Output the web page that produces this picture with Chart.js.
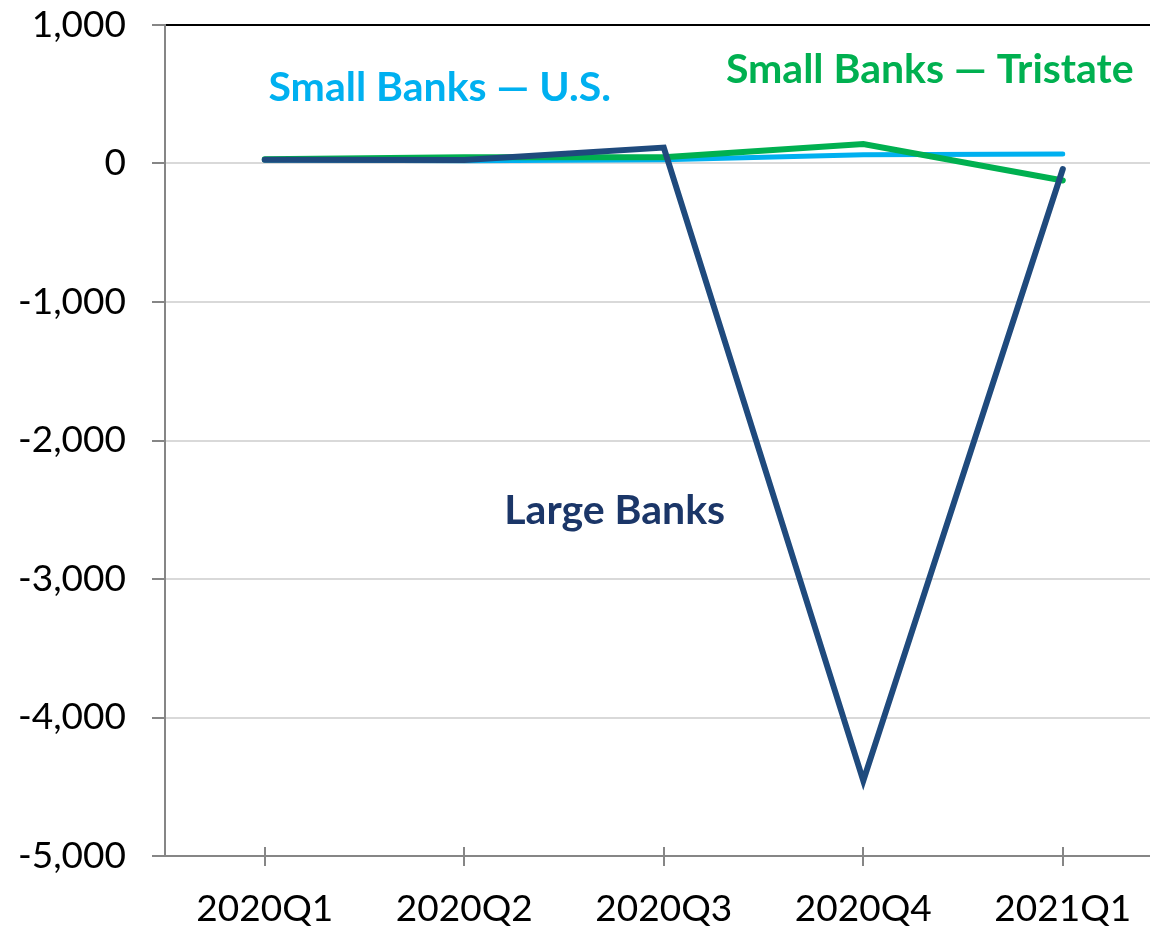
<!DOCTYPE html>
<html>
<head>
<meta charset="utf-8">
<script src="https://cdn.jsdelivr.net/npm/chart.js@4.4.0/dist/chart.umd.min.js"></script>
<style>
  html, body { margin: 0; padding: 0; background: #ffffff; }
  #wrap { width: 1150px; height: 932px; }
</style>
</head>
<body>
<div id="wrap"><canvas id="c" width="1150" height="932"></canvas></div>
<script>
const categories = ['2020Q1', '2020Q2', '2020Q3', '2020Q4', '2021Q1'];
const largeBanks = [27, 25, 115, -4457, -40];
const smallTristate = [30, 45, 46, 140, -123];
const smallUS = [25, 20, 27, 63, 68];
const yTicks = [1000, 0, -1000, -2000, -3000, -4000, -5000];

const seriesLabels = [
  { text: 'Small Banks \u2014 U.S.', x: 0.877, y: 545, color: '#00B0F0' },
  { text: 'Small Banks \u2014 Tristate', x: 3.333, y: 675, color: '#00B050' },
  { text: 'Large Banks', x: 1.754, y: -2510, color: '#1B3668' }
];

const FONT = 'Lato, "Open Sans", sans-serif';

const toPts = arr => arr.map((v, i) => ({ x: i, y: v }));

const labelPlugin = {
  id: 'seriesLabels',
  afterDatasetsDraw(chart) {
    const { ctx, scales } = chart;
    ctx.save();
    ctx.font = 'bold 41px ' + FONT;
    ctx.textAlign = 'center';
    ctx.textBaseline = 'middle';
    seriesLabels.forEach(l => {
      ctx.fillStyle = l.color;
      ctx.fillText(l.text, scales.x.getPixelForValue(l.x), scales.y.getPixelForValue(l.y));
    });
    ctx.restore();
  }
};

const innerTicks = {
  id: 'innerTicks',
  afterDraw(chart) {
    const { ctx, scales, chartArea } = chart;
    ctx.save();
    ctx.strokeStyle = '#868686';
    ctx.lineWidth = 2;
    categories.forEach((c, i) => {
      const px = Math.round(scales.x.getPixelForValue(i));
      ctx.beginPath();
      ctx.moveTo(px, chartArea.bottom - 9);
      ctx.lineTo(px, chartArea.bottom);
      ctx.stroke();
    });
    ctx.restore();
  }
};

new Chart(document.getElementById('c'), {
  type: 'line',
  data: {
    datasets: [
      { label: 'Large Banks', data: toPts(largeBanks), borderColor: '#1F4A7D', borderWidth: 6, order: 0 },
      { label: 'Small Banks \u2014 Tristate', data: toPts(smallTristate), borderColor: '#00B050', borderWidth: 6, order: 1 },
      { label: 'Small Banks \u2014 U.S.', data: toPts(smallUS), borderColor: '#00B0F0', borderWidth: 5, order: 2 }
    ]
  },
  options: {
    responsive: false,
    animation: false,
    devicePixelRatio: 1,
    layout: { padding: { left: 0, right: 0, top: 25, bottom: 0 } },
    elements: {
      point: { radius: 0, hoverRadius: 0 },
      line: { tension: 0, borderCapStyle: 'round', borderJoinStyle: 'miter', fill: false }
    },
    plugins: { legend: { display: false }, tooltip: { enabled: false } },
    scales: {
      x: {
        type: 'linear',
        min: -0.5,
        max: 4.437,
        afterBuildTicks: s => { s.ticks = categories.map((c, i) => ({ value: i })); },
        afterFit: s => { s.height = 76; s.paddingLeft = 0; s.paddingRight = 0; },
        ticks: {
          autoSkip: false,
          maxRotation: 0,
          padding: 21,
          color: '#000000',
          font: { family: FONT, size: 37 },
          callback: v => categories[v]
        },
        grid: { drawOnChartArea: false, drawTicks: true, tickLength: 10, color: '#868686', tickColor: '#868686', lineWidth: 2 },
        border: { display: true, color: '#868686', width: 2 }
      },
      y: {
        min: -5000,
        max: 1000,
        afterBuildTicks: s => { s.ticks = yTicks.map(v => ({ value: v })); },
        afterFit: s => { s.width = 165; s.paddingTop = 0; s.paddingBottom = 0; },
        ticks: {
          padding: 26,
          color: '#000000',
          font: { family: FONT, size: 37 },
          callback: v => v.toLocaleString('en-US')
        },
        grid: {
          color: ctx => (ctx.tick && ctx.tick.value === 1000 ? '#000000' : '#D9D9D9'),
          tickColor: '#868686',
          lineWidth: 2,
          tickLength: 13
        },
        border: { display: true, color: '#868686', width: 2 }
      }
    }
  },
  plugins: [labelPlugin, innerTicks]
});
</script>
</body>
</html>
